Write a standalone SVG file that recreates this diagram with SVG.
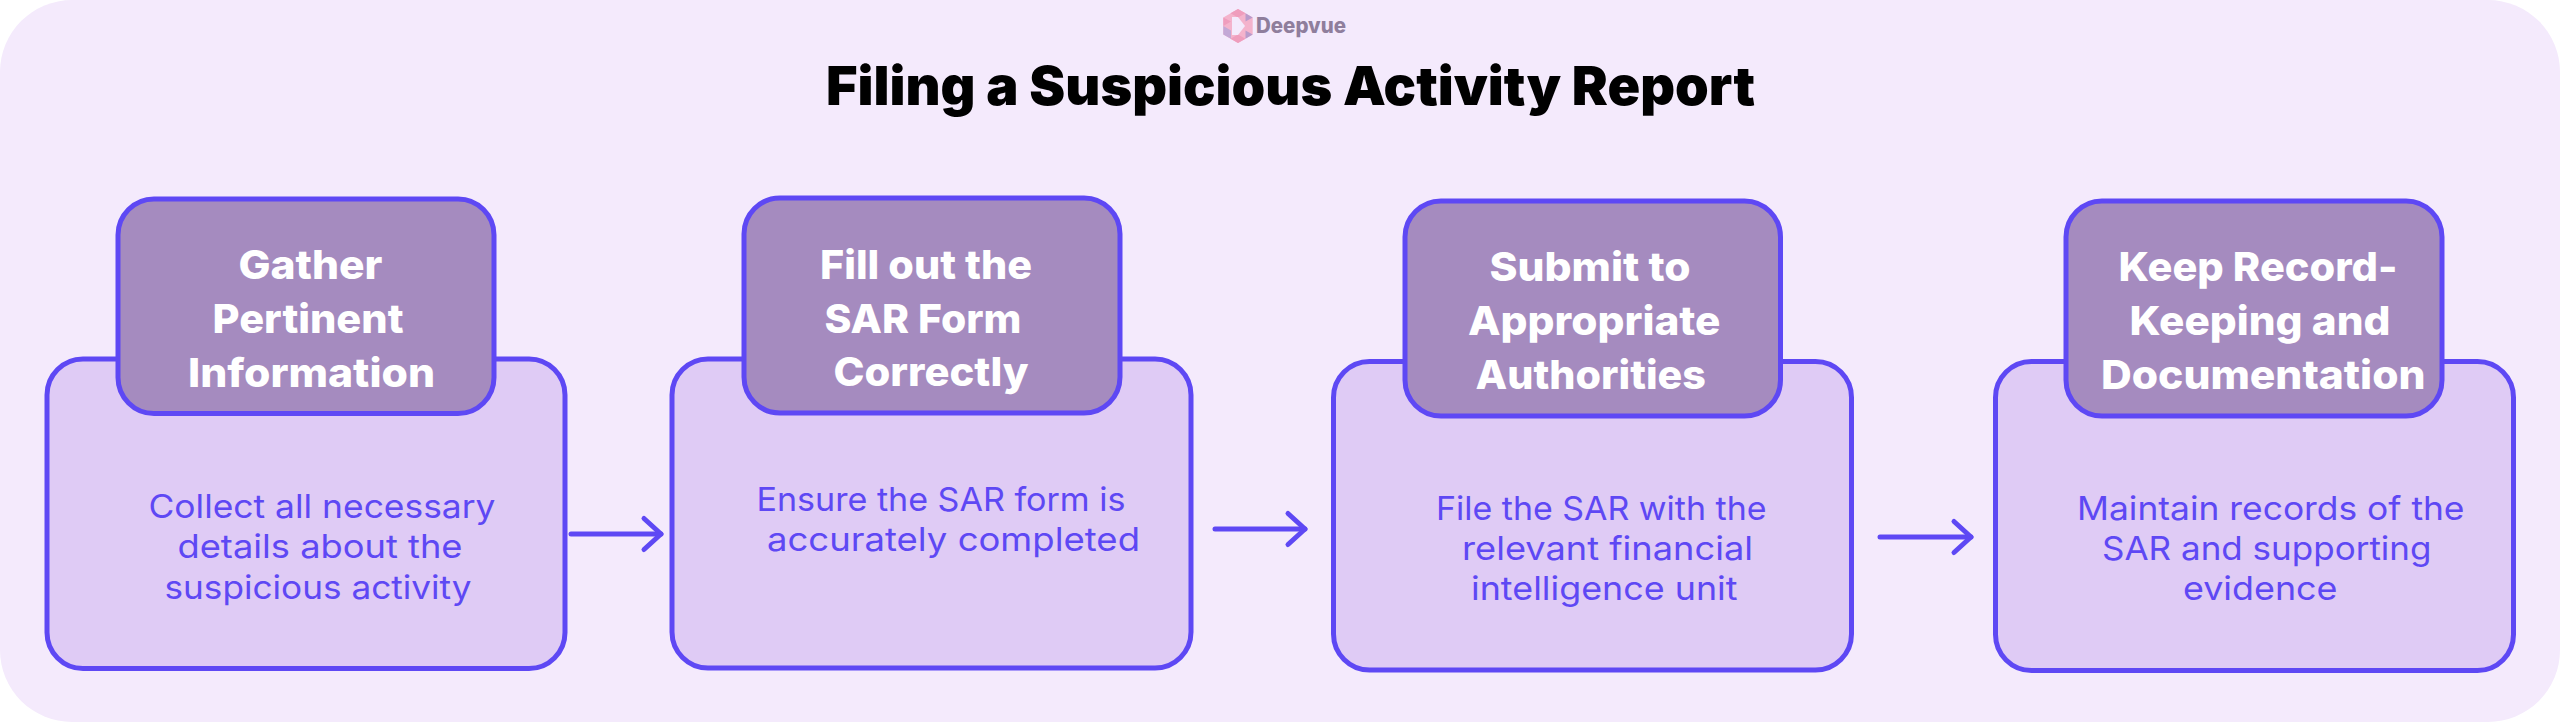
<svg xmlns="http://www.w3.org/2000/svg" width="2560" height="722" viewBox="0 0 2560 722">
<style>
text{font-family:"Inter","Liberation Sans",sans-serif}
.body{fill:#dfcbf5;stroke:#5e48f4;stroke-width:5}
.head{fill:#a58bbf;stroke:#5e48f4;stroke-width:5}
.ht{fill:#fff;font-size:40px;font-weight:800}
.bt{fill:#5e48f4;font-size:33px;font-weight:400}
.title{fill:#000;font-size:54px;font-weight:900}
.brand{fill:#8f7e9c;font-size:21px;font-weight:800}
.conn{fill:none;stroke:#5e48f4;stroke-width:5;stroke-linecap:round;stroke-linejoin:round}
</style>
<defs>
<marker id="arrow" markerUnits="userSpaceOnUse" markerWidth="40" markerHeight="40" refX="20" refY="20" orient="auto" overflow="visible">
<path d="M3,4.500 L20,20 L3,35.500" fill="none" stroke="#5e48f4" stroke-width="5" stroke-linecap="round" stroke-linejoin="round"/>
</marker>
</defs>
<rect id="background" x="0" y="0" width="2560" height="722" rx="72" ry="72" fill="#f4eafc"/>
<g id="logo">
<polygon points="1238,9 1252.700,17.500 1252.700,34.500 1238,43 1223.300,34.500 1223.300,17.500" fill="#f4b3cc"/>
<polygon points="1238,9 1245.500,13.300 1238,17.500 1230.500,13.300" fill="#ef9dbd"/>
<polygon points="1245.500,13.300 1252.700,17.500 1245.500,21.500" fill="#b99bcb"/>
<polygon points="1252.700,34.500 1245.500,38.700 1245.500,30.500" fill="#b99bcb"/>
<polygon points="1238,43 1230.500,38.700 1238,34.500 1245.500,38.700" fill="#ef9dbd"/>
<polygon points="1223.300,34.500 1223.300,26 1231,30.500 1231,38.700" fill="#c3a8d6"/>
<polygon points="1223.300,17.500 1223.300,26 1231,21.500" fill="#ef9dbd"/>
<polygon points="1232,17 1238,17 1245,26 1238,35 1232,35" fill="#f4eafc"/>
<text class="brand" x="1256" y="33" textLength="90" lengthAdjust="spacingAndGlyphs">Deepvue</text>
</g>
<text id="title" class="title" x="826" y="105" textLength="929" lengthAdjust="spacingAndGlyphs">Filing a Suspicious Activity Report</text>
<g id="connectors">
<line class="conn" x1="571" y1="534" x2="661" y2="534" marker-end="url(#arrow)"/>
<line class="conn" x1="1215" y1="529" x2="1305" y2="529" marker-end="url(#arrow)"/>
<line class="conn" x1="1880" y1="537" x2="1971" y2="537" marker-end="url(#arrow)"/>
</g>
<g id="node-1">
<rect class="body" x="47" y="359" width="518" height="309.500" rx="36"/>
<rect class="head" x="118" y="199" width="376" height="214.500" rx="36"/>
<text class="ht" x="238.500" y="278.500" textLength="144" lengthAdjust="spacingAndGlyphs">Gather</text>
<text class="ht" x="212.500" y="333" textLength="191" lengthAdjust="spacingAndGlyphs">Pertinent</text>
<text class="ht" x="188" y="386.500" textLength="247" lengthAdjust="spacingAndGlyphs">Information</text>
<text class="bt" x="148.500" y="518" textLength="347" lengthAdjust="spacingAndGlyphs">Collect all necessary</text>
<text class="bt" x="177.500" y="558" textLength="285" lengthAdjust="spacingAndGlyphs">details about the</text>
<text class="bt" x="164.500" y="598.500" textLength="307" lengthAdjust="spacingAndGlyphs">suspicious activity</text>
</g>
<g id="node-2">
<rect class="body" x="672" y="359" width="519" height="309" rx="36"/>
<rect class="head" x="744" y="198" width="376" height="215" rx="36"/>
<text class="ht" x="820" y="278.700" textLength="212" lengthAdjust="spacingAndGlyphs">Fill out the</text>
<text class="ht" x="824.500" y="332.700" textLength="197" lengthAdjust="spacingAndGlyphs">SAR Form</text>
<text class="ht" x="833.500" y="386" textLength="195" lengthAdjust="spacingAndGlyphs">Correctly</text>
<text class="bt" x="756.500" y="510.700" textLength="369" lengthAdjust="spacingAndGlyphs">Ensure the SAR form is</text>
<text class="bt" x="767" y="550.700" textLength="373" lengthAdjust="spacingAndGlyphs">accurately completed</text>
</g>
<g id="node-3">
<rect class="body" x="1333.500" y="361.500" width="518" height="308.500" rx="36"/>
<rect class="head" x="1405" y="201" width="375.500" height="215" rx="36"/>
<text class="ht" x="1489.500" y="281" textLength="201" lengthAdjust="spacingAndGlyphs">Submit to</text>
<text class="ht" x="1468" y="335" textLength="252.500" lengthAdjust="spacingAndGlyphs">Appropriate</text>
<text class="ht" x="1475.500" y="389" textLength="230.500" lengthAdjust="spacingAndGlyphs">Authorities</text>
<text class="bt" x="1436" y="520" textLength="330.500" lengthAdjust="spacingAndGlyphs">File the SAR with the</text>
<text class="bt" x="1462" y="560" textLength="291" lengthAdjust="spacingAndGlyphs">relevant financial</text>
<text class="bt" x="1471" y="600" textLength="266.500" lengthAdjust="spacingAndGlyphs">intelligence unit</text>
</g>
<g id="node-4">
<rect class="body" x="1995.500" y="361.500" width="518" height="309" rx="36"/>
<rect class="head" x="2066" y="201" width="376" height="215" rx="36"/>
<text class="ht" x="2118.500" y="281" textLength="279" lengthAdjust="spacingAndGlyphs">Keep Record-</text>
<text class="ht" x="2129.500" y="335" textLength="261" lengthAdjust="spacingAndGlyphs">Keeping and</text>
<text class="ht" x="2101" y="388.500" textLength="324.500" lengthAdjust="spacingAndGlyphs">Documentation</text>
<text class="bt" x="2077" y="520" textLength="387.500" lengthAdjust="spacingAndGlyphs">Maintain records of the</text>
<text class="bt" x="2102" y="560" textLength="329.500" lengthAdjust="spacingAndGlyphs">SAR and supporting</text>
<text class="bt" x="2183" y="600" textLength="154.500" lengthAdjust="spacingAndGlyphs">evidence</text>
</g>
</svg>
